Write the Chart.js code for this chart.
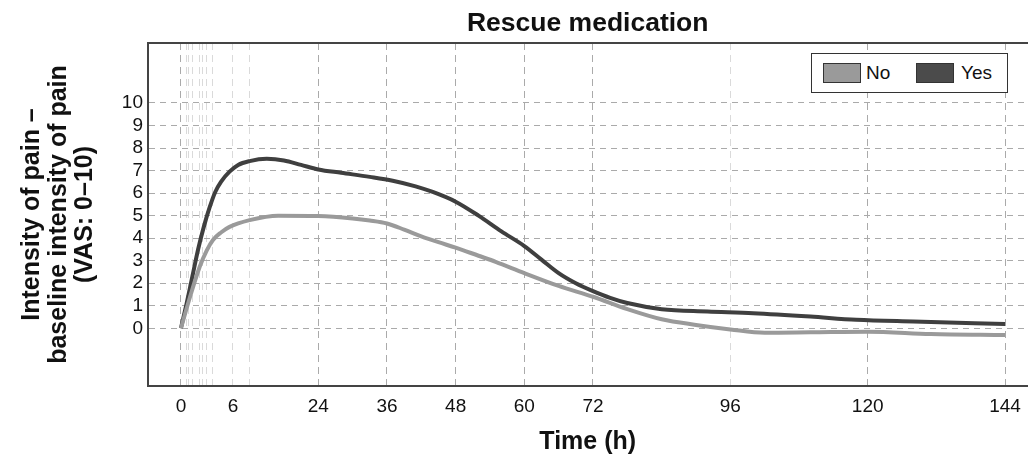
<!DOCTYPE html>
<html>
<head>
<meta charset="utf-8">
<script src="https://cdn.jsdelivr.net/npm/chart.js@4.4.0/dist/chart.umd.min.js"></script>
<style>
  body { margin: 0; background: #fff; }
  #wrap { position: relative; width: 1030px; height: 458px; }
  #legend { position: absolute; left: 811px; top: 53px; width: 197px; height: 40px; box-sizing: border-box;
            border: 1.5px solid #333; background: #fff; font: 19px "Liberation Sans", Arial, sans-serif; color: #111; }
  #legend .sw { position: absolute; top: 9px; width: 38px; height: 20px; box-sizing: border-box; border: 1.5px solid #333; }
  #legend .lb { position: absolute; top: 8px; line-height: 22px; }
</style>
</head>
<body>
<div id="wrap">
  <canvas id="chart" width="1030" height="458"></canvas>
  <div id="legend">
    <span class="sw" style="left:11px;background:#9a9a9a"></span><span class="lb" style="left:54px">No</span>
    <span class="sw" style="left:104px;background:#4b4b4b"></span><span class="lb" style="left:149px">Yes</span>
  </div>
</div>
<script>
// (hours after dosing, pain change)
const yesHours = [0, 1, 2, 3, 4, 5, 6, 7, 8.5, 10, 12, 15, 18, 21, 24, 28, 33, 37, 41, 44, 48, 52, 56, 60, 63, 66, 69, 72, 75, 78, 84, 92, 100, 110, 118, 128, 144]
const yesPain  = [0, 1.1, 2.3, 3.5, 4.5, 5.35, 6.05, 6.5, 6.95, 7.25, 7.42, 7.52, 7.45, 7.25, 7.05, 6.9, 6.72, 6.55, 6.3, 6.05, 5.62, 5.0, 4.3, 3.65, 3.05, 2.45, 2.0, 1.65, 1.35, 1.12, 0.85, 0.75, 0.67, 0.52, 0.38, 0.3, 0.19]
const noHours  = [0, 1.6, 3.3, 4.5, 5.6, 7, 8.5, 12, 17, 24, 30, 33, 36, 39, 42, 45, 48, 52, 55, 60, 66, 72, 78, 84, 90, 96, 102, 110, 120, 131, 144]
const noPain   = [0, 1.4, 2.74, 3.45, 3.92, 4.25, 4.5, 4.8, 5.0, 4.98, 4.87, 4.78, 4.65, 4.38, 4.08, 3.82, 3.58, 3.22, 2.95, 2.45, 1.88, 1.4, 0.85, 0.4, 0.15, -0.05, -0.2, -0.18, -0.15, -0.25, -0.3]

const xGridHours  = [0, 0.9, 1.3, 2, 3.3, 3.8, 4.5, 5.5, 9.1, 12, 24, 36, 48, 60, 72, 96, 120, 144]
const xTickHours  = [0, 9.1, 24, 36, 48, 60, 72, 96, 120, 144]
const xTickLabels = ['0', '6', '24', '36', '48', '60', '72', '96', '120', '144']
const yTicks = [0, 1, 2, 3, 4, 5, 6, 7, 8, 9, 10]

const font = '"Liberation Sans", Arial, sans-serif'
const toPoints = (xs, ys) => xs.map((x, i) => ({ x: x, y: ys[i] }))
const faint = [0.9, 1.3, 2, 3.3, 3.8, 4.5, 5.5, 9.1, 12, 96]

new Chart(document.getElementById('chart'), {
  type: 'line',
  data: {
    datasets: [
      { label: 'No', data: toPoints(noHours, noPain), borderColor: '#9a9a9a', borderWidth: 4,
        pointRadius: 0, cubicInterpolationMode: 'monotone' },
      { label: 'Yes', data: toPoints(yesHours, yesPain), borderColor: '#3f3f3f', borderWidth: 4,
        pointRadius: 0, cubicInterpolationMode: 'monotone' }
    ]
  },
  options: {
    responsive: false,
    animation: false,
    layout: { padding: 0 },
    plugins: { legend: { display: false }, tooltip: { enabled: false } },
    scales: {
      x: {
        type: 'linear', position: 'bottom', min: -5.75, max: 147.9,
        afterBuildTicks: s => { s.ticks = xGridHours.map(v => ({ value: v })) },
        afterFit: s => { s.height = 72 },
        ticks: {
          autoSkip: false, maxRotation: 0, padding: 9, color: '#111',
          font: { family: font, size: 19 },
          callback: v => { const i = xTickHours.indexOf(v); return i < 0 ? '' : xTickLabels[i] }
        },
        grid: {
          drawTicks: false,
          color: c => faint.includes(c.tick && c.tick.value) ? '#dadada' : '#aaaaaa'
        },
        border: { display: true, color: '#444', width: 2, dash: [7, 5] },
        title: { display: true, text: 'Time (h)', color: '#111', padding: { top: 0, bottom: 1 },
                 font: { family: font, size: 25, weight: 'bold' } }
      },
      top: {
        type: 'linear', position: 'top', min: -5.75, max: 147.9,
        afterFit: s => { s.height = 43 },
        ticks: { display: false },
        grid: { display: false, drawTicks: false },
        border: { display: true, color: '#444', width: 2 },
        title: { display: true, text: 'Rescue medication', color: '#111', padding: { top: 8, bottom: 0 },
                 font: { family: font, size: 26.5, weight: 'bold' } }
      },
      y: {
        type: 'linear', position: 'left', min: -2.56, max: 12.66,
        afterBuildTicks: s => { s.ticks = yTicks.map(v => ({ value: v })) },
        afterFit: s => { s.width = 148 },
        ticks: { padding: 5, color: '#111', font: { family: font, size: 19 } },
        grid: { drawTicks: false, color: '#aaaaaa' },
        border: { display: true, color: '#444', width: 2, dash: [6, 5] },
        title: { display: true, text: ['Intensity of pain –', 'baseline intensity of pain', '(VAS: 0–10)'],
                 color: '#111', padding: { top: 19, bottom: 0 },
                 font: { family: font, size: 25, weight: 'bold', lineHeight: 1.06 } }
      }
    }
  }
})
</script>
</body>
</html>
